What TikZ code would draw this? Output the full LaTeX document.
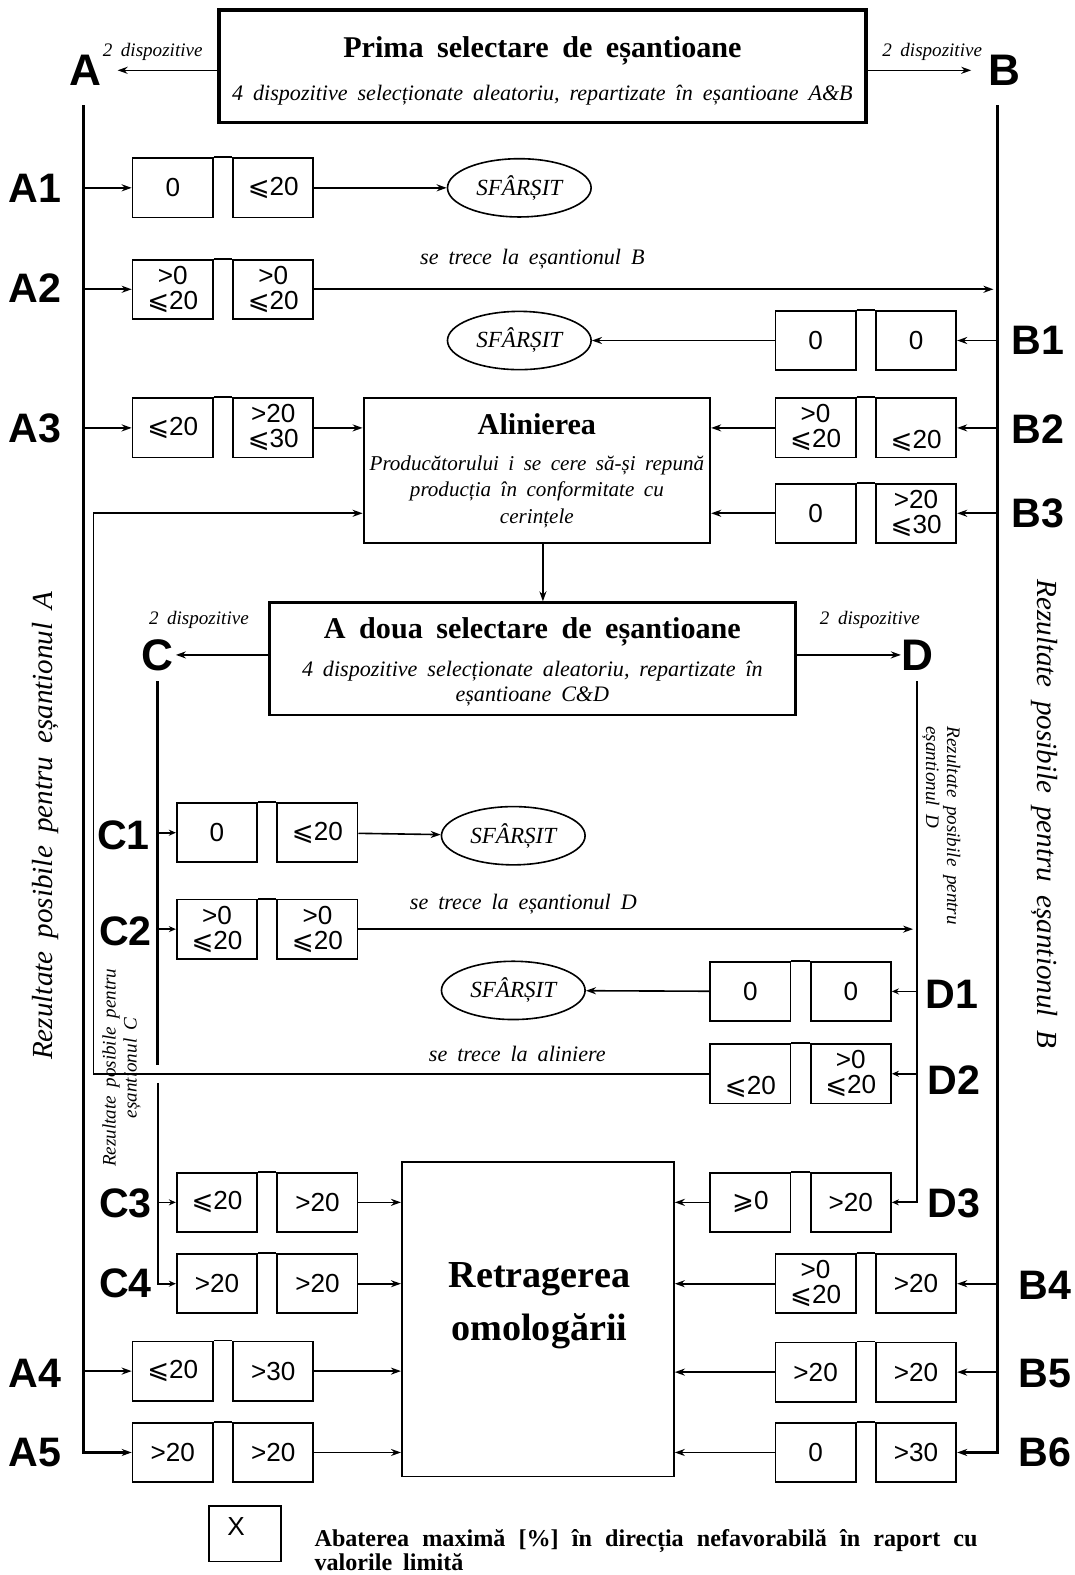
\documentclass[tikz,border=0pt]{standalone}
\usepackage{fontspec}
\setmainfont[WordSpace=1.8]{Liberation Serif}
\setsansfont{Liberation Sans}
\newfontfamily\dvsym{DejaVu Sans}
\usetikzlibrary{arrows.meta,shapes.geometric}

\newcommand{\lesl}{{\dvsym ⩽}}
\newcommand{\gesl}{{\dvsym ⩾}}

\begin{document}
\begin{tikzpicture}[x=1pt,y=-1pt,
    valbox/.style={draw, line width=1.8pt, minimum width=80pt, minimum height=59pt, inner sep=0pt, align=center, font=\sffamily\fontsize{26}{25}\selectfont},
    rowlbl/.style={font=\sffamily\bfseries\fontsize{41}{41}\selectfont, inner sep=0pt},
    grplbl/.style={font=\sffamily\bfseries\fontsize{44}{44}\selectfont, inner sep=0pt},
    endnode/.style={draw, ellipse, line width=1.6pt, minimum width=143pt, minimum height=58pt, inner sep=0pt, font=\itshape\fontsize{23}{23}\selectfont},
    stepnote/.style={font=\itshape\fontsize{22}{22}\selectfont, inner sep=0pt},
    devnote/.style={font=\itshape\fontsize{19}{19}\selectfont, inner sep=0pt},
    arr/.style={-{Stealth[length=10pt,width=7pt]}, line width=1.6pt},
    sarr/.style={-{Stealth[length=7pt,width=6pt]}, line width=1.6pt},
    trunk/.style={line width=2.6pt}
]
    \useasboundingbox (0,0) rectangle (1070,1568);

    % Selection boxes
    \node[draw, line width=3.8pt, minimum width=644pt, minimum height=112pt, align=center, font=\itshape\fontsize{22}{26}\selectfont] (sel1) at (540,66)
        {\rule{0pt}{30pt}{\upshape\bfseries\fontsize{30}{30}\selectfont Prima selectare de eșantioane}\\[17pt]4 dispozitive selecționate aleatoriu, repartizate în eșantioane A\&B};
    \node[draw, line width=2.6pt, minimum width=524pt, minimum height=112pt, align=center, font=\itshape\fontsize{22}{25}\selectfont] (sel2) at (530,656)
        {\rule{0pt}{26pt}{\upshape\bfseries\fontsize{30}{30}\selectfont A doua selectare de eșantioane}\\[13pt]4 dispozitive selecționate aleatoriu, repartizate în\\eșantioane C\&D};
    \node[draw, line width=2pt, minimum width=345pt, minimum height=145pt, align=center, font=\itshape\fontsize{21}{26}\selectfont] (alin) at (534.5,468.5)
        {{\upshape\bfseries\fontsize{30}{30}\selectfont Alinierea}\\[10pt]Producătorului i se cere să-și repună\\producția în conformitate cu\\cerințele};
    \node[draw, line width=1.6pt, minimum width=271pt, minimum height=313pt] (retr) at (535.5,1313.5) {};
    \node[align=center, inner sep=0pt, font=\bfseries\fontsize{38}{52}\selectfont] (retrtxt) at (537,1300) {Retragerea\\omologării};

    % Group letters
    \node[grplbl] (alab) at (85,70) {A};
    \node[grplbl] (blab) at (1000,70) {B};
    \node[grplbl] (clab) at (157,652) {C};
    \node[grplbl] (dlab) at (913,652) {D};
    \node[devnote] (adev) at (152,52) {2 dispozitive};
    \node[devnote] (bdev) at (928,52) {2 dispozitive};
    \node[devnote] (cdev) at (198,617) {2 dispozitive};
    \node[devnote] (ddev) at (866,617) {2 dispozitive};
    \draw[arr, shorten >=16pt] (alab -| sel1.west) -- (alab.east);
    \draw[arr, shorten >=17pt] (blab -| sel1.east) -- (blab.west);
    \draw[arr, shorten >=2pt] (clab -| sel2.west) -- (clab.east);
    \draw[arr] (dlab -| sel2.east) -- (dlab.west);
    \draw[arr] ([xshift=6pt]alin.south) -- ([xshift=6pt]alin.south |- sel2.north);

    % Result pairs
    \foreach \nm/\x/\y/\ta/\tb in {
        a1/172/187/0/{\lesl20}, a2/172/288/{>0\\\lesl20}/{>0\\\lesl20},
        a3/172/426/{\lesl20}/{>20\\\lesl30}, a4/172/1365/{\lesl20}/{>30},
        a5/172/1446/{>20}/{>20},
        b1/812/339/0/0, b2/812/426/{>0\\\lesl20}/{\strut\\\lesl20},
        b3/812/511/0/{>20\\\lesl30}, b4/812/1278/{>0\\\lesl20}/{>20},
        b5/812/1366/{>20}/{>20}, b6/812/1446/0/{>30},
        c1/216/829/0/{\lesl20}, c2/216/925/{>0\\\lesl20}/{>0\\\lesl20},
        c3/216/1197/{\lesl20}/{>20}, c4/216/1278/{>20}/{>20},
        d1/747/987/0/0, d2/747/1069/{\strut\\\lesl20}/{>0\\\lesl20},
        d3/747/1197/{\gesl0}/{>20}} {
        \node[valbox] (\nm-l) at (\x,\y) {\ta};
        \node[valbox] (\nm-r) at (\x+100,\y) {\tb};
        \draw[line width=1.8pt] (\nm-l.north east) -- (\nm-r.north west);
    }

    % Row labels
    \foreach \nm/\x/\y in {A1/35/187, A2/35/287, A3/35/426, A4/35/1367, A5/35/1446,
        B1/1033/339, B2/1033/427, B3/1033/511, B4/1040/1280, B5/1040/1367, B6/1040/1446,
        C1/123/832, C2/125/927, C3/125/1198, C4/125/1278,
        D1/948/990, D2/950/1075, D3/950/1198}
        \node[rowlbl] (lbl-\nm) at (\x,\y) {\nm};

    % End nodes
    \node[endnode] (e1) at (517,187) {SFÂRȘIT};
    \node[endnode] (e2) at (517,339) {SFÂRȘIT};
    \node[endnode] (e3) at (511,832) {SFÂRȘIT};
    \node[endnode] (e4) at (511,986) {SFÂRȘIT};

    % Trunks
    \coordinate (atop) at (83,105);
    \coordinate (btop) at (993,105);
    \coordinate (ctop) at (157,678);
    \coordinate (dtop) at (913,678);
    \coordinate (back) at (93,511);
    \draw[arr, trunk] (atop) |- (a5-l);
    \draw[arr, trunk] (btop) |- (b6-r);
    \draw[trunk] (ctop) -- ([yshift=9pt]ctop |- d2-l.west);
    \draw[sarr, line width=2.2pt] ([yshift=-9pt]ctop |- d2-l.west) |- (c4-l);
    \draw[sarr, line width=2.2pt] (dtop) |- (d3-r);
    \foreach \r in {a1,a2,a3,a4} \draw[arr] (atop |- \r-l) -- (\r-l);
    \foreach \r in {b1,b2,b3,b4,b5} \draw[arr] (btop |- \r-r) -- (\r-r);
    \foreach \r in {c1,c2,c3} \draw[sarr] (ctop |- \r-l) -- (\r-l);
    \foreach \r in {d1,d2} \draw[sarr] (dtop |- \r-r) -- (\r-r);

    % Outcomes
    \draw[arr] (a1-r) -- (e1);
    \draw[arr] (b1-l) -- (e2);
    \draw[arr] (c1-r) -- (e3);
    \draw[arr] (d1-l) -- (e4);
    \draw[arr, shorten >=4pt] (a2-r) -- (btop |- a2-r);
    \draw[arr, shorten >=4pt] (c2-r) -- (dtop |- c2-r);
    \draw[arr] (a3-r) -- (a3-r -| alin.west);
    \draw[arr] (b2-l) -- (b2-l -| alin.east);
    \draw[arr] (b3-l) -- (b3-l -| alin.east);
    \draw[arr] (d2-l) -| (back) -- (back -| alin.west);
    \foreach \r in {c3,c4,a4,a5} \draw[arr] (\r-r) -- (\r-r -| retr.west);
    \foreach \r in {d3,b4,b5,b6} \draw[arr] (\r-l) -- (\r-l -| retr.east);
    \node[stepnote] (nota2) at (530,258) {se trece la eșantionul B};
    \node[stepnote] (notc2) at (521,900) {se trece la eșantionul D};
    \node[stepnote] (notd2) at (515,1049) {se trece la aliniere};

    % Side captions
    \node[rotate=90, inner sep=0pt, font=\itshape\fontsize{29}{29}\selectfont] (resa) at (45,822) {Rezultate posibile pentru eșantionul A};
    \node[rotate=-90, inner sep=0pt, font=\itshape\fontsize{29}{29}\selectfont] (resb) at (1040,810) {Rezultate posibile pentru eșantionul B};
    \node[rotate=90, inner sep=0pt, align=center, font=\itshape\fontsize{19}{21}\selectfont] (resc) at (121,1063) {Rezultate posibile pentru\\eșantionul C};
    \node[rotate=-90, inner sep=0pt, align=left, font=\itshape\fontsize{19}{21}\selectfont] (resd) at (937,822) {Rezultate posibile pentru\\eșantionul D};

    % Legend
    \node[draw, line width=1.8pt, minimum width=72pt, minimum height=55pt] (xbox) at (244,1527) {};
    \node[inner sep=0pt, font=\sffamily\fontsize{26}{26}\selectfont] (xmark) at (235,1520) {X};
    \node[anchor=north west, inner sep=0pt, text width=660pt, align=justify, font=\bfseries\fontsize{24}{23}\selectfont] (legtxt) at (313,1522)
        {Abaterea maximă [\%] în direcția nefavorabilă în raport cu\linebreak valorile limită};
\end{tikzpicture}
\end{document}
